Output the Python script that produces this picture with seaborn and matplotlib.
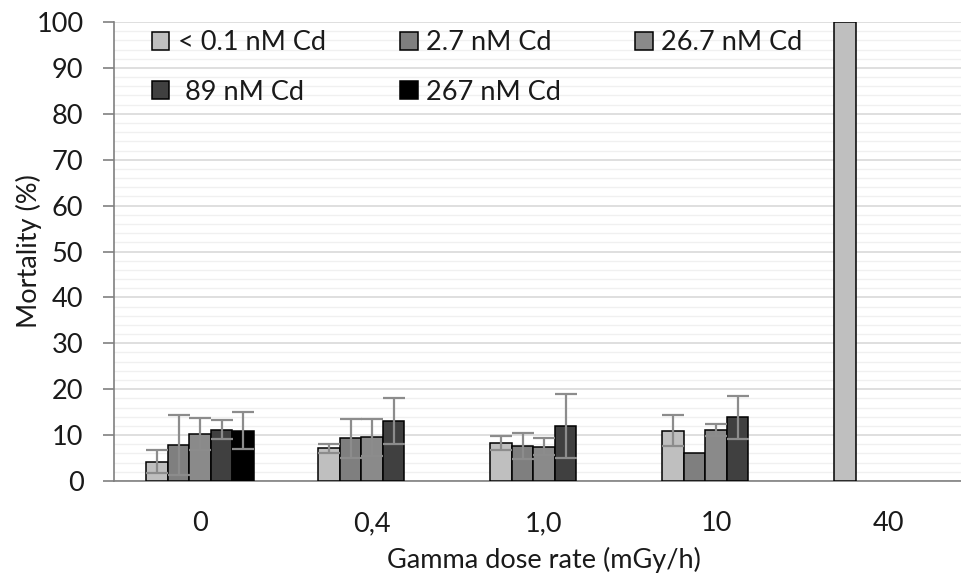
import numpy as np
import pandas as pd
import seaborn as sns
import matplotlib.pyplot as plt
from matplotlib.ticker import MultipleLocator

doses = ['0', '0,4', '1,0', '10', '40']
cd_levels = ['< 0.1 nM Cd', '2.7 nM Cd', '26.7 nM Cd', ' 89 nM Cd', '267 nM Cd']
colors = ['#bfbfbf', '#7f7f7f', '#8a8a8a', '#404040', '#000000']

# mortality (%) per Cd level, one value per dose rate (nan = not tested)
mort_01 = [4.2, 7.1, 8.3, 11.0, 100.0]
mort_27 = [7.8, 9.3, 7.6, 6.1, np.nan]
mort_267a = [10.2, 9.5, 7.5, 11.1, np.nan]
mort_89 = [11.2, 13.1, 12.0, 13.9, np.nan]
mort_267 = [11.0, np.nan, np.nan, np.nan, np.nan]

sd_01 = [2.5, 1.0, 1.6, 3.4, np.nan]
sd_27 = [6.5, 4.2, 2.8, np.nan, np.nan]
sd_267a = [3.5, 4.0, 1.9, 1.4, np.nan]
sd_89 = [2.0, 5.0, 7.0, 4.7, np.nan]
sd_267 = [4.1, np.nan, np.nan, np.nan, np.nan]

all_mort = [mort_01, mort_27, mort_267a, mort_89, mort_267]
all_sd = [sd_01, sd_27, sd_267a, sd_89, sd_267]

rows = []
for lvl, m, s in zip(cd_levels, all_mort, all_sd):
    for d, v, e in zip(doses, m, s):
        if not np.isnan(v):
            rows.append({'dose': d, 'cd': lvl, 'mortality': v, 'sd': e})
df = pd.DataFrame(rows)

sns.set_style('white')
plt.rcParams['font.family'] = ['Lato', 'DejaVu Sans']

fig = plt.figure(figsize=(9.62, 5.75), dpi=100)
ax = fig.add_axes([114 / 962, 94 / 575, 860 / 962, 459 / 575])

sns.barplot(data=df, x='dose', y='mortality', hue='cd', order=doses,
            hue_order=cd_levels, palette=colors, width=0.625,
            errorbar=None, edgecolor='black', linewidth=1.1, saturation=1,
            ax=ax, zorder=3)

# error bars on top of each bar
for cont, lvl in zip(ax.containers, cd_levels):
    sub = df[df['cd'] == lvl]
    for bar, (_, r) in zip(cont, sub.iterrows()):
        if np.isnan(r['sd']):
            continue
        ax.errorbar(bar.get_x() + bar.get_width() / 2, r['mortality'], yerr=r['sd'],
                    fmt='none', ecolor='#8c8c8c', elinewidth=1.6, capsize=8,
                    capthick=1.6, zorder=4)

ax.set_xlim(-0.5, len(doses) - 0.5)
ax.set_ylim(0, 100)
ax.yaxis.set_major_locator(MultipleLocator(10))
ax.yaxis.set_minor_locator(MultipleLocator(2))
ax.grid(True, which='major', axis='y', color='#d9d9d9', linewidth=1.2, zorder=0)
ax.grid(True, which='minor', axis='y', color='#f0f0f0', linewidth=1.0, zorder=0)
ax.set_axisbelow(True)

for side in ['top', 'right']:
    ax.spines[side].set_visible(False)
ax.spines['left'].set_color('#808080')
ax.spines['bottom'].set_color('#808080')
ax.spines['left'].set_linewidth(1.2)
ax.spines['bottom'].set_linewidth(1.2)
ax.tick_params(axis='y', which='major', left=True, length=8, width=1.2,
               color='#808080', labelsize=19.5, pad=14, labelcolor='#1a1a1a')
ax.tick_params(axis='y', which='minor', left=False)
ax.tick_params(axis='x', bottom=False, labelsize=19.5, pad=18, labelcolor='#1a1a1a')

ax.set_xlabel('Gamma dose rate (mGy/h)', fontsize=19.5, color='#1a1a1a', labelpad=8)
ax.set_ylabel('Mortality (%)', fontsize=19.5, color='#1a1a1a', labelpad=-4)

handles, labels = ax.get_legend_handles_labels()
order = [0, 3, 1, 4, 2]
ax.legend([handles[i] for i in order], [labels[i] for i in order],
          ncol=3, loc='upper left', bbox_to_anchor=(0.044, 0.982),
          borderaxespad=0, borderpad=0,
          frameon=False, fontsize=19.5, handlelength=0.65, handleheight=0.65,
          handletextpad=0.3, columnspacing=2.75, labelspacing=0.9,
          labelcolor='#1a1a1a')

fig.savefig('out.png', dpi=100)
